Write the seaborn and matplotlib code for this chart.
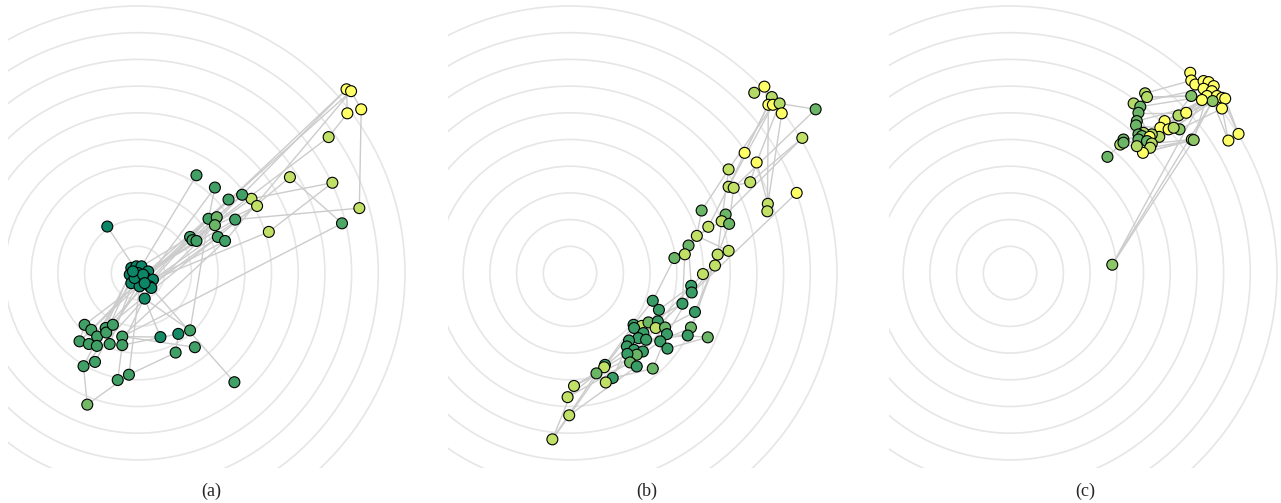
import numpy as np
import pandas as pd
import seaborn as sns
import matplotlib.pyplot as plt
from matplotlib.patches import Circle
from matplotlib.collections import LineCollection

# node positions (in ring units, ring k has radius k) and colour value per node
a_x = [7.81, 7.98, 7.84, 8.36, 7.14, 5.69, 7.28, 8.29, 7.64, 4.90, 4.25, 4.46, 3.90, 3.39, 2.88, 2.19,
       2.64, 2.95, 2.88, 3.64, 1.95, 2.04, 2.19, 2.99, 3.26, -1.15,
       -0.25, -0.06, 0.13, 0.38, -0.31, 0.0, 0.31, 0.56, -0.25, 0.06, 0.44, 0.06, -0.13, 0.19, 0.5, -0.19, 0.25,
       0.25, -2.0, -1.75, -2.19, -1.84, -1.53, -1.54, -1.21, -1.19, -0.94, -1.06, -0.59, -0.59, -2.04, -1.61,
       -0.76, -0.34, -1.90, 0.84, 1.51, 1.95, 1.41, 2.13, 3.61]
a_y = [6.88, 6.81, 5.98, 6.13, 5.09, 3.59, 3.38, 2.43, 1.86, 1.54, 2.78, 2.51, 2.93, 2.75, 3.20, 3.66,
       2.03, 2.09, 1.79, 2.00, 1.35, 1.23, 1.20, 1.35, 1.20, 1.74,
       0.19, 0.25, 0.25, 0.06, -0.06, 0.0, -0.19, -0.25, -0.38, -0.31, -0.5, -0.5, -0.19, -0.06, -0.56, 0.06, -0.38,
       -0.96, -1.94, -2.13, -2.56, -2.66, -2.38, -2.73, -2.06, -2.23, -1.94, -2.66, -2.38, -2.70, -3.49, -3.33,
       -4.01, -3.81, -4.93, -2.40, -2.28, -2.15, -2.98, -2.78, -4.09]
a_c = [1.0, 1.0, 1.0, 1.0, 0.75, 0.75, 0.75, 0.75, 0.3, 0.75, 0.75, 0.75, 0.25, 0.25, 0.25, 0.25,
       0.25, 0.42, 0.42, 0.25, 0.25, 0.25, 0.25, 0.25, 0.25, 0.05,
       0.05, 0.05, 0.05, 0.05, 0.05, 0.05, 0.05, 0.05, 0.05, 0.05, 0.05, 0.05, 0.05, 0.05, 0.05, 0.05, 0.05,
       0.08, 0.25, 0.25, 0.25, 0.25, 0.25, 0.25, 0.25, 0.25, 0.25, 0.25, 0.25, 0.25, 0.25, 0.25,
       0.25, 0.25, 0.45, 0.08, 0.08, 0.25, 0.25, 0.25, 0.25]
a_edges = [(1, 21), (1, 23), (2, 17), (2, 25), (1, 3), (3, 5), (4, 8), (2, 4), (5, 22), (7, 11), (7, 10),
           (6, 9), (6, 24), (8, 20), (9, 55), (10, 34), (15, 17), (16, 29), (26, 32), (13, 11), (14, 13),
           (12, 21), (11, 22), (18, 23), (14, 30), (13, 33), (12, 34), (20, 40), (24, 37), (25, 43), (19, 41),
           (67, 41), (64, 17), (62, 38), (62, 55), (63, 65), (63, 56), (60, 65), (61, 57), (61, 60), (66, 55),
           (45, 33), (46, 30), (47, 14), (49, 21), (51, 24), (53, 15), (55, 25), (57, 44), (58, 36), (60, 38),
           (59, 56), (45, 47), (48, 35), (50, 31), (52, 28), (54, 39), (56, 37), (44, 64), (21, 29), (22, 30),
           (23, 40), (17, 34), (57, 58), (47, 48), (57, 31)]

b_x = [7.28, 6.9, 7.56, 7.43, 7.6, 7.85, 7.93, 9.2, 8.7, 6.54, 6.99, 5.94, 6.75, 5.94, 6.13, 8.49, 7.41,
       7.39, 4.93, 5.83, 5.68, 5.96, 5.18, 4.75, 4.44, 3.91, 4.3, 5.53, 5.94, 5.43, 4.98, 4.54, 4.56, 4.21,
       3.1, 3.33, 4.68, 4.53, 4.41, 5.16, 2.38, 2.69, 2.94, 3.29, 3.21, 3.56, 3.63, 2.4, 2.75, 2.56, 2.21,
       2.85, 3.38, 3.65, 2.13, 2.4, 2.73, 2.5, 2.15, 2.25, 2.5, 3.1, 1.31, 1.28, 0.99, 1.6, 1.34, 0.15,
       -0.09, -0.03, -0.66]
b_y = [6.98, 6.75, 6.59, 6.3, 6.3, 6.35, 5.98, 6.13, 5.06, 4.5, 4.14, 3.88, 3.4, 3.23, 3.19, 3.0, 2.59,
       2.31, 2.34, 2.19, 1.94, 1.84, 1.73, 1.39, 1.03, 0.56, 0.7, 0.69, 0.83, 0.28, -0.04, -0.48, -0.73,
       -1.15, -1.04, -1.38, -1.46, -2.04, -2.34, -2.41, -1.94, -1.98, -1.85, -1.81, -2.06, -2.04, -2.29,
       -2.06, -2.25, -2.44, -2.53, -2.5, -2.56, -2.83, -2.75, -2.88, -2.94, -3.06, -3.03, -3.35, -3.5, -3.58,
       -3.44, -3.53, -3.76, -3.93, -4.1, -4.23, -4.65, -5.33, -6.23]
b_c = [1.0, 0.7, 0.7, 1.0, 1.0, 0.7, 1.0, 0.42, 0.75, 1.0, 1.0, 0.75, 0.75, 0.75, 0.75, 1.0, 0.75,
       0.75, 0.42, 0.42, 0.75, 0.42, 0.75, 0.75, 0.42, 0.42, 0.75, 0.75, 0.75, 0.75, 0.75, 0.22, 0.22, 0.22,
       0.22, 0.22, 0.22, 0.42, 0.22, 0.42, 0.22, 0.75, 0.42, 0.22, 0.75, 0.42, 0.22, 0.22, 0.22, 0.22, 0.22,
       0.22, 0.22, 0.22, 0.22, 0.22, 0.22, 0.42, 0.22, 0.42, 0.22, 0.42, 0.22, 0.75, 0.42, 0.22, 0.75, 0.75,
       0.75, 0.75, 0.75]
b_edges = [(1, 4), (1, 2), (1, 5), (3, 7), (6, 8), (3, 10), (4, 10), (5, 12), (5, 14), (4, 18), (7, 17),
           (6, 11), (8, 15), (9, 13), (9, 20), (11, 17), (11, 13), (10, 14), (12, 19), (13, 14), (16, 45),
           (15, 22), (12, 21), (14, 23), (19, 24), (20, 22), (21, 28), (21, 24), (23, 25), (24, 26), (24, 29),
           (26, 35), (27, 34), (25, 32), (31, 44), (30, 33), (32, 36), (33, 47), (34, 43), (35, 41), (36, 49),
           (37, 46), (38, 53), (40, 54), (40, 47), (39, 52), (41, 51), (44, 50), (43, 55), (46, 57), (47, 62),
           (41, 63), (48, 64), (50, 65), (55, 66), (56, 67), (57, 68), (59, 68), (60, 69), (61, 70), (63, 71),
           (65, 71), (68, 71), (70, 71), (64, 69), (62, 66), (45, 52), (42, 48), (49, 58), (53, 60), (29, 31),
           (28, 37), (22, 38)]

c_x = [6.75, 6.79, 6.94, 7.25, 7.44, 7.63, 7.25, 7.56, 7.38, 7.75, 7.94, 8.06, 7.59, 7.19, 6.79, 7.94,
       8.18, 8.56, 5.06, 5.13, 4.63, 4.88, 4.81, 4.75, 4.72, 5.79, 6.31, 6.6, 6.35, 5.63, 5.94, 6.13, 5.59,
       5.31, 5.0, 4.81, 4.94, 4.81, 5.23, 5.13, 5.31, 5.25, 4.98, 4.75, 4.25, 4.13, 4.25, 3.65, 6.81, 6.88,
       3.83]
c_y = [7.5, 7.21, 7.06, 7.19, 7.15, 7.0, 6.9, 6.81, 6.63, 6.63, 6.56, 6.53, 6.44, 6.48, 6.63, 6.16, 4.96,
       5.21, 6.73, 6.59, 6.35, 6.23, 6.0, 5.69, 5.53, 5.69, 5.9, 6.0, 5.38, 5.44, 5.38, 5.44, 5.1, 5.19,
       5.25, 5.19, 5.13, 5.0, 5.1, 4.94, 4.85, 4.69, 4.5, 4.75, 5.0, 4.81, 4.88, 4.35, 5.0, 4.98, 0.31]
c_c = [1.0, 1.0, 1.0, 1.0, 1.0, 1.0, 1.0, 1.0, 1.0, 1.0, 1.0, 1.0, 0.55, 1.0, 0.5, 1.0, 1.0, 1.0, 0.7,
       0.7, 0.7, 0.42, 0.42, 0.42, 0.42, 1.0, 0.7, 1.0, 0.55, 1.0, 1.0, 0.7, 0.7, 0.7, 0.7, 0.42, 0.42,
       0.38, 1.0, 0.42, 0.7, 0.75, 1.0, 0.7, 0.42, 0.7, 0.42, 0.42, 0.7, 0.55, 0.55]
c_edges = [(51, 50), (51, 13), (51, 14), (19, 2), (20, 15), (21, 7), (22, 9), (24, 13), (27, 9), (28, 14),
           (26, 13), (29, 16), (32, 13), (31, 9), (30, 13), (33, 15), (35, 14), (39, 9), (41, 13), (42, 50),
           (43, 49), (44, 29), (45, 34), (46, 38), (47, 40), (48, 46), (49, 13), (50, 9), (17, 13), (18, 12),
           (17, 16), (18, 11), (1, 2), (2, 3), (3, 4), (4, 5), (5, 6), (6, 8), (7, 9), (9, 14), (10, 11),
           (11, 12), (12, 16), (8, 13), (19, 20), (21, 22), (22, 23), (23, 24), (24, 25), (25, 36), (36, 37),
           (37, 38), (38, 40), (40, 41), (34, 35), (33, 34), (30, 31), (31, 32), (32, 27), (27, 28), (26, 30),
           (42, 43), (44, 46), (45, 47), (20, 9), (23, 28), (25, 31), (36, 30), (39, 31), (41, 49), (43, 50),
           (40, 29), (35, 26), (21, 39), (44, 33)]

labels = ["(a)", "(b)", "(c)"]
rings = list(range(1, 11))

sns.set_style("white")
plt.rcParams["font.family"] = ["Liberation Serif", "DejaVu Serif"]
fig = plt.figure(figsize=(12.81, 5.03), dpi=100)
W, H = 1281, 503
u = 26.7  # pixels per ring unit
# panel boxes in pixels: left, right, ring centre x
boxes = [(8, 415, 138), (448, 845, 570), (889, 1281, 1010)]
cy, top, bot = 273, 0, 468

panels = [(a_x, a_y, a_c, a_edges), (b_x, b_y, b_c, b_edges), (c_x, c_y, c_c, c_edges)]
for (l, r, cx), (xs, ys, cs, edges), lab in zip(boxes, panels, labels):
    ax = fig.add_axes([l / W, (H - bot) / H, (r - l) / W, (bot - top) / H])
    ax.set_xlim((l - cx) / u, (r - cx) / u)
    ax.set_ylim(-(bot - cy) / u, (cy - top) / u)
    ax.set_axis_off()
    for k in rings:
        ax.add_patch(Circle((0, 0), k, fill=False, ec="#e6e6e6", lw=1.2, zorder=0))
    df = pd.DataFrame({"x": xs, "y": ys, "c": cs})
    segs = [[(xs[i - 1], ys[i - 1]), (xs[j - 1], ys[j - 1])] for i, j in edges]
    ax.add_collection(LineCollection(segs, colors="#cccccc", linewidths=1.0, zorder=1))
    sns.scatterplot(data=df, x="x", y="y", hue="c", palette="summer", hue_norm=(0, 1),
                    s=62, edgecolor="black", linewidth=0.8, legend=False, ax=ax, zorder=2)
    fig.text((l + r) / 2 / W, 1 - 491 / H, lab, ha="center", va="center", fontsize=13)

fig.savefig("out.png", dpi=100)
